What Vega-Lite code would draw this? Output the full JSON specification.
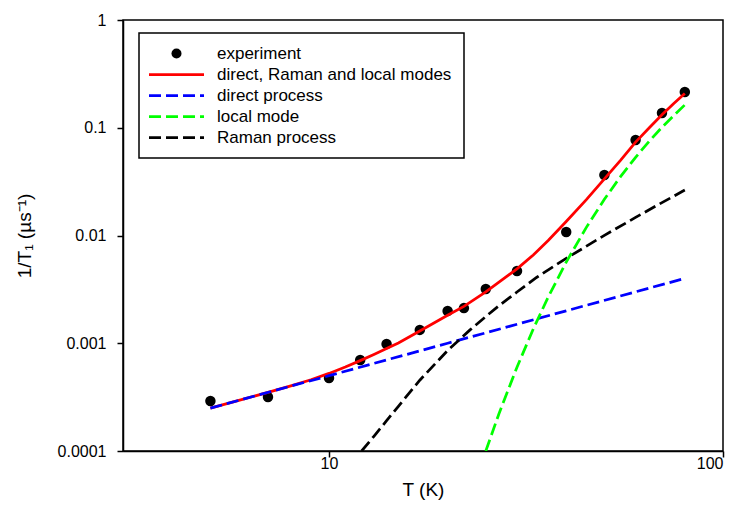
{
  "$schema": "https://vega.github.io/schema/vega-lite/v6.json",
  "width": 600,
  "height": 431,
  "autosize": {"type": "none"},
  "padding": {"left": 123, "top": 20, "right": 17, "bottom": 73},
  "background": "white",
  "config": {
    "font": "Liberation Sans",
    "view": {"stroke": "black", "strokeWidth": 1.5},
    "axis": {
      "domainColor": "black", "tickColor": "black", "labelColor": "black", "titleColor": "black",
      "grid": false, "labelFontSize": 16, "titleFontSize": 19, "titleFontWeight": "normal",
      "tickSize": 6, "domainWidth": 1.5, "tickWidth": 1.5,
      "labelFont": "Liberation Sans", "titleFont": "Liberation Sans"
    },
    "legend": {
      "orient": "none", "legendX": 16, "legendY": 13, "padding": 12,
      "strokeColor": "black", "fillColor": "white",
      "labelFontSize": 17, "labelFont": "Liberation Sans", "labelColor": "black", "labelLimit": 400,
      "rowPadding": 3, "symbolSize": 100, "symbolOffset": 17, "labelOffset": 32
    }
  },
  "datasets": {
    "d": [
      {"series": "experiment", "T": 5, "v": 0.000291},
      {"series": "experiment", "T": 7, "v": 0.000317},
      {"series": "experiment", "T": 10, "v": 0.000476},
      {"series": "experiment", "T": 12, "v": 0.000699},
      {"series": "experiment", "T": 14, "v": 0.000985},
      {"series": "experiment", "T": 17, "v": 0.00133},
      {"series": "experiment", "T": 20, "v": 0.00199},
      {"series": "experiment", "T": 22, "v": 0.00212},
      {"series": "experiment", "T": 25, "v": 0.00319},
      {"series": "experiment", "T": 30, "v": 0.00469},
      {"series": "experiment", "T": 40, "v": 0.01078},
      {"series": "experiment", "T": 50, "v": 0.0364},
      {"series": "experiment", "T": 60, "v": 0.077},
      {"series": "experiment", "T": 70, "v": 0.137},
      {"series": "experiment", "T": 80, "v": 0.215},

      {"series": "direct, Raman and local modes", "T": 5, "v": 0.00025},
      {"series": "direct, Raman and local modes", "T": 6, "v": 0.0003},
      {"series": "direct, Raman and local modes", "T": 7, "v": 0.00035},
      {"series": "direct, Raman and local modes", "T": 8, "v": 0.000402},
      {"series": "direct, Raman and local modes", "T": 9, "v": 0.000458},
      {"series": "direct, Raman and local modes", "T": 10, "v": 0.000525},
      {"series": "direct, Raman and local modes", "T": 11, "v": 0.000603},
      {"series": "direct, Raman and local modes", "T": 12, "v": 0.00069},
      {"series": "direct, Raman and local modes", "T": 13, "v": 0.000787},
      {"series": "direct, Raman and local modes", "T": 14, "v": 0.000892},
      {"series": "direct, Raman and local modes", "T": 15, "v": 0.001005},
      {"series": "direct, Raman and local modes", "T": 17, "v": 0.0013},
      {"series": "direct, Raman and local modes", "T": 20, "v": 0.00182},
      {"series": "direct, Raman and local modes", "T": 22, "v": 0.0022},
      {"series": "direct, Raman and local modes", "T": 25, "v": 0.003},
      {"series": "direct, Raman and local modes", "T": 27, "v": 0.0037},
      {"series": "direct, Raman and local modes", "T": 30, "v": 0.0049},
      {"series": "direct, Raman and local modes", "T": 33, "v": 0.0066},
      {"series": "direct, Raman and local modes", "T": 36, "v": 0.009},
      {"series": "direct, Raman and local modes", "T": 40, "v": 0.0135},
      {"series": "direct, Raman and local modes", "T": 45, "v": 0.0215},
      {"series": "direct, Raman and local modes", "T": 50, "v": 0.0335},
      {"series": "direct, Raman and local modes", "T": 55, "v": 0.05},
      {"series": "direct, Raman and local modes", "T": 60, "v": 0.0735},
      {"series": "direct, Raman and local modes", "T": 65, "v": 0.1},
      {"series": "direct, Raman and local modes", "T": 70, "v": 0.132},
      {"series": "direct, Raman and local modes", "T": 75, "v": 0.168},
      {"series": "direct, Raman and local modes", "T": 80, "v": 0.208},

      {"series": "direct process", "T": 5, "v": 0.00025},
      {"series": "direct process", "T": 10, "v": 0.0005},
      {"series": "direct process", "T": 20, "v": 0.001},
      {"series": "direct process", "T": 40, "v": 0.002},
      {"series": "direct process", "T": 80, "v": 0.004},

      {"series": "local mode", "T": 25, "v": 0.0001},
      {"series": "local mode", "T": 27, "v": 0.000222},
      {"series": "local mode", "T": 30, "v": 0.0006},
      {"series": "local mode", "T": 33, "v": 0.00136},
      {"series": "local mode", "T": 36, "v": 0.00268},
      {"series": "local mode", "T": 40, "v": 0.00566},
      {"series": "local mode", "T": 45, "v": 0.0119},
      {"series": "local mode", "T": 50, "v": 0.0217},
      {"series": "local mode", "T": 55, "v": 0.0354},
      {"series": "local mode", "T": 60, "v": 0.0532},
      {"series": "local mode", "T": 65, "v": 0.0751},
      {"series": "local mode", "T": 70, "v": 0.101},
      {"series": "local mode", "T": 75, "v": 0.13},
      {"series": "local mode", "T": 80, "v": 0.163},

      {"series": "Raman process", "T": 12.1, "v": 0.0001},
      {"series": "Raman process", "T": 13, "v": 0.000137},
      {"series": "Raman process", "T": 14, "v": 0.000191},
      {"series": "Raman process", "T": 15, "v": 0.00026},
      {"series": "Raman process", "T": 17, "v": 0.000454},
      {"series": "Raman process", "T": 20, "v": 0.000857},
      {"series": "Raman process", "T": 22.8, "v": 0.00133},
      {"series": "Raman process", "T": 25, "v": 0.00177},
      {"series": "Raman process", "T": 27, "v": 0.00223},
      {"series": "Raman process", "T": 30, "v": 0.00299},
      {"series": "Raman process", "T": 33.7, "v": 0.0041},
      {"series": "Raman process", "T": 40, "v": 0.00614},
      {"series": "Raman process", "T": 50, "v": 0.01003},
      {"series": "Raman process", "T": 60, "v": 0.01472},
      {"series": "Raman process", "T": 70, "v": 0.0202},
      {"series": "Raman process", "T": 80, "v": 0.0264}
    ]
  },
  "data": {"name": "d"},
  "encoding": {
    "x": {
      "field": "T", "type": "quantitative",
      "scale": {"type": "log", "domain": [3, 100], "nice": false},
      "axis": {"values": [10, 100], "format": "~g", "title": "T (K)", "labelPadding": -2, "titlePadding": 9}
    },
    "y": {
      "field": "v", "type": "quantitative",
      "scale": {"type": "log", "domain": [0.0001, 1], "nice": false},
      "axis": {"values": [0.0001, 0.001, 0.01, 0.1, 1], "format": "~g", "title": "1/T₁ (µs⁻¹)", "labelPadding": 11, "titlePadding": 23}
    },
    "color": {
      "field": "series", "type": "nominal",
      "scale": {
        "domain": ["experiment", "direct, Raman and local modes", "direct process", "local mode", "Raman process"],
        "range": ["#000000", "#ff0000", "#0000ff", "#00ff00", "#000000"]
      },
      "legend": {
        "title": null,
        "encode": {
          "legend": {"update": {"strokeWidth": {"value": 1.5}}},
          "symbols": {
            "update": {
              "shape": {"signal": "datum.value === 'experiment' ? 'circle' : 'M-5.5,0H5.5'"},
              "strokeDash": {"signal": "(datum.value === 'experiment' || datum.value === 'direct, Raman and local modes') ? [1, 0] : [12, 5]"},
              "strokeWidth": {"signal": "datum.value === 'experiment' ? 0 : 2.75"},
              "size": {"value": 100},
              "opacity": {"value": 1}
            }
          }
        }
      }
    }
  },
  "layer": [
    {
      "transform": [{"filter": "datum.series === 'experiment'"}],
      "mark": {"type": "point", "filled": true, "size": 110, "opacity": 1}
    },
    {
      "transform": [{"filter": "datum.series === 'direct, Raman and local modes'"}],
      "mark": {"type": "line", "strokeWidth": 2.75, "clip": true}
    },
    {
      "transform": [{"filter": "datum.series === 'direct process'"}],
      "mark": {"type": "line", "strokeWidth": 2.75, "strokeDash": [12, 5], "clip": true}
    },
    {
      "transform": [{"filter": "datum.series === 'Raman process'"}],
      "mark": {"type": "line", "strokeWidth": 2.75, "strokeDash": [12, 5], "clip": true}
    },
    {
      "transform": [{"filter": "datum.series === 'local mode'"}],
      "mark": {"type": "line", "strokeWidth": 2.75, "strokeDash": [12, 5], "clip": true}
    }
  ]
}
